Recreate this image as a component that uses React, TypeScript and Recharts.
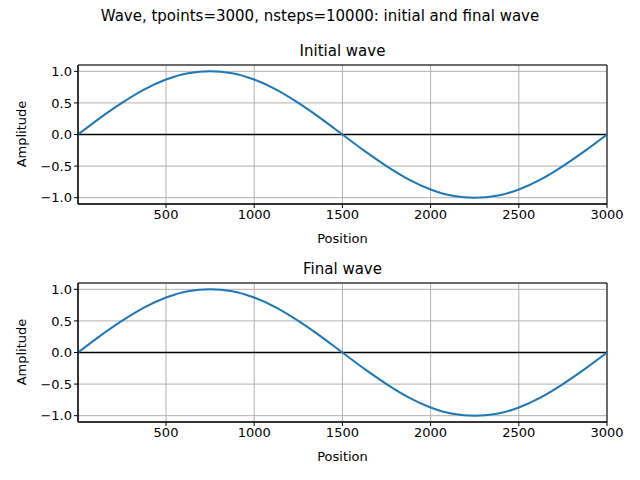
import React from "react";
import { LineChart, Line, XAxis, YAxis, CartesianGrid, ReferenceLine, ReferenceArea } from "recharts";

const positions = [1, 125, 250, 375, 500, 625, 750, 875, 1000, 1125, 1250, 1375, 1500, 1625, 1750, 1875, 2000, 2125, 2250, 2375, 2500, 2625, 2750, 2875, 3000];
const initialAmp = [0, 0.26, 0.5, 0.71, 0.87, 0.97, 1, 0.97, 0.87, 0.71, 0.5, 0.26, 0, -0.26, -0.5, -0.71, -0.87, -0.97, -1, -0.97, -0.87, -0.71, -0.5, -0.26, 0];
const finalAmp = [0, 0.26, 0.5, 0.71, 0.87, 0.97, 1, 0.97, 0.87, 0.71, 0.5, 0.26, 0, -0.26, -0.5, -0.71, -0.87, -0.97, -1, -0.97, -0.87, -0.71, -0.5, -0.26, 0];
const xTicks = [500, 1000, 1500, 2000, 2500, 3000];
const yTicks = [-1, -0.5, 0, 0.5, 1];

const font = "DejaVu Sans, sans-serif";
const tickStyle = { fill: "#000", fontSize: 13, fontFamily: font };

const Panel = ({ top, title, values }: { top: number; title: string; values: number[] }) => {
  const data = positions.map((p, i) => ({ x: p, y: values[i] }));
  return (
    <div style={{ position: "absolute", left: 0, top, width: 640, height: 240 }}>
      <div style={{ position: "absolute", left: 78, width: 529, top: 42, textAlign: "center", fontSize: 15, fontFamily: font }}>{title}</div>
      <div style={{ position: "absolute", left: 78, width: 529, top: 231, textAlign: "center", fontSize: 13, fontFamily: font }}>Position</div>
      <div style={{ position: "absolute", left: 21, top: 134, fontSize: 13, fontFamily: font, transform: "translate(-50%,-50%) rotate(-90deg)" }}>Amplitude</div>
      <LineChart width={640} height={240} data={data} margin={{ top: 65, right: 33, left: 38, bottom: 16 }}>
        <CartesianGrid xAxisId="b" yAxisId="l" stroke="#b0b0b0" strokeWidth={1} />
        <XAxis xAxisId="b" dataKey="x" type="number" domain={[1, 3000]} ticks={xTicks} tick={tickStyle} tickSize={4} stroke="#000" height={20} allowDataOverflow />
        <YAxis yAxisId="l" type="number" domain={[-1.1, 1.1]} ticks={yTicks} tick={tickStyle} tickSize={4} stroke="#000" width={40} tickFormatter={(v) => v.toFixed(1).replace("-", "\u2212")} allowDataOverflow />
        <ReferenceLine xAxisId="b" yAxisId="l" y={0} stroke="#000" strokeWidth={1.5} />
        <Line xAxisId="b" yAxisId="l" dataKey="y" type="monotone" stroke="#1f77b4" strokeWidth={2} dot={false} isAnimationActive={false} />
        <ReferenceArea xAxisId="b" yAxisId="l" x1={1} x2={3000} y1={-1.1} y2={1.1} fill="none" fillOpacity={0} stroke="#000" strokeWidth={1} />
      </LineChart>
    </div>
  );
};

export default function App() {
  return (
    <div style={{ position: "absolute", left: 0, top: 0, width: 640, height: 480, background: "#fff" }}>
      <div style={{ position: "absolute", left: 0, width: 640, top: 7, textAlign: "center", fontSize: 15, fontFamily: font }}>
        Wave, tpoints=3000, nsteps=10000: initial and final wave
      </div>
      <Panel top={0} title="Initial wave" values={initialAmp} />
      <Panel top={218} title="Final wave" values={finalAmp} />
    </div>
  );
}
